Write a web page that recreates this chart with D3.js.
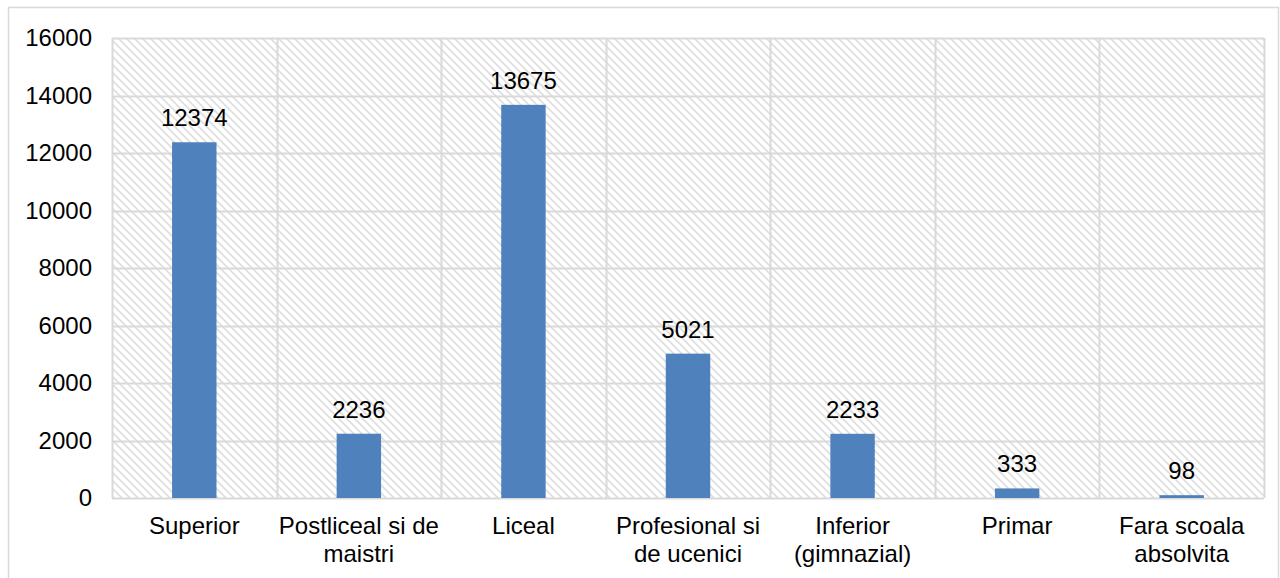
<!DOCTYPE html>
<html><head><meta charset="utf-8">
<script src="https://cdn.jsdelivr.net/npm/d3@7"></script>
<style>body{margin:0;background:#fff;}svg{display:block;}</style>
</head><body>
<script>
const categories = [["Superior"],["Postliceal si de","maistri"],["Liceal"],["Profesional si","de ucenici"],["Inferior","(gimnazial)"],["Primar"],["Fara scoala","absolvita"]];
const values = [12374, 2236, 13675, 5021, 2233, 333, 98];
const yTicks = [0, 2000, 4000, 6000, 8000, 10000, 12000, 14000, 16000];

const W = 1280, H = 578;
const FS = 24;
const m = {left: 112, right: 1264, top: 38, bottom: 498};
const svg = d3.select("body").append("svg").attr("width", W).attr("height", H);

const defs = svg.append("defs");
const pat = defs.append("pattern").attr("id","hatch").attr("patternUnits","userSpaceOnUse")
  .attr("width",8).attr("height",8);
pat.append("rect").attr("width",8).attr("height",8).attr("fill","#fff");
pat.append("path").attr("d","M-2,-2 L10,10 M-2,6 L2,10 M6,-2 L10,2")
  .attr("stroke","#dedede").attr("stroke-width",1.6);

svg.append("rect").attr("x",8.5).attr("y",7.5).attr("width",1270).attr("height",600)
  .attr("fill","none").attr("stroke","#d9d9d9").attr("stroke-width",1.5);

const x = d3.scaleBand().domain(d3.range(categories.length)).range([m.left, m.right]).paddingInner(0).paddingOuter(0);
const y = d3.scaleLinear().domain([0,16000]).range([m.bottom, m.top]);

svg.append("rect").attr("x",m.left).attr("y",m.top).attr("width",m.right-m.left).attr("height",m.bottom-m.top)
  .attr("fill","url(#hatch)");

// horizontal gridlines
svg.append("g").selectAll("line").data(yTicks).join("line")
  .attr("x1",m.left).attr("x2",m.right).attr("y1",d=>Math.round(y(d))+0.5).attr("y2",d=>Math.round(y(d))+0.5)
  .attr("stroke","#d9d9d9").attr("stroke-width",2);
// vertical gridlines
const vx = d3.range(categories.length+1).map(i => i < categories.length ? x(i) : m.right);
svg.append("g").selectAll("line").data(vx).join("line")
  .attr("x1",d=>Math.round(d)+0.5).attr("x2",d=>Math.round(d)+0.5).attr("y1",m.top).attr("y2",m.bottom)
  .attr("stroke","#d9d9d9").attr("stroke-width",2);

// y axis labels
const yAxis = d3.axisLeft(y).tickValues(yTicks).tickSize(0).tickPadding(20).tickFormat(d3.format("d"));
const ga = svg.append("g").attr("transform",`translate(${m.left},0)`).call(yAxis);
ga.select(".domain").remove();
ga.selectAll("text").attr("font-family","'Liberation Sans', Arial, sans-serif").attr("font-size",FS).attr("fill","#000");

// bars
const bw = x.bandwidth()*0.27;
svg.append("g").selectAll("rect").data(values).join("rect")
  .attr("x",(d,i)=>x(i)+x.bandwidth()/2-bw/2).attr("width",bw)
  .attr("y",d=>y(d)).attr("height",d=>m.bottom-y(d)).attr("fill","#4f81bd");

// value labels
svg.append("g").selectAll("text").data(values).join("text")
  .attr("x",(d,i)=>x(i)+x.bandwidth()/2).attr("y",d=>y(d)-16)
  .attr("text-anchor","middle").attr("font-family","'Liberation Sans', Arial, sans-serif")
  .attr("font-size",FS).attr("fill","#000").text(d=>d);

// category labels
const cl = svg.append("g").selectAll("text").data(categories).join("text")
  .attr("x",(d,i)=>x(i)+x.bandwidth()/2).attr("y",534)
  .attr("text-anchor","middle").attr("font-family","'Liberation Sans', Arial, sans-serif")
  .attr("font-size",FS).attr("fill","#000");
cl.each(function(d,i){
  const t = d3.select(this);
  d.forEach((line,j)=>t.append("tspan").attr("x",x(i)+x.bandwidth()/2).attr("dy",j===0?0:28).text(line));
});
</script>
</body></html>
